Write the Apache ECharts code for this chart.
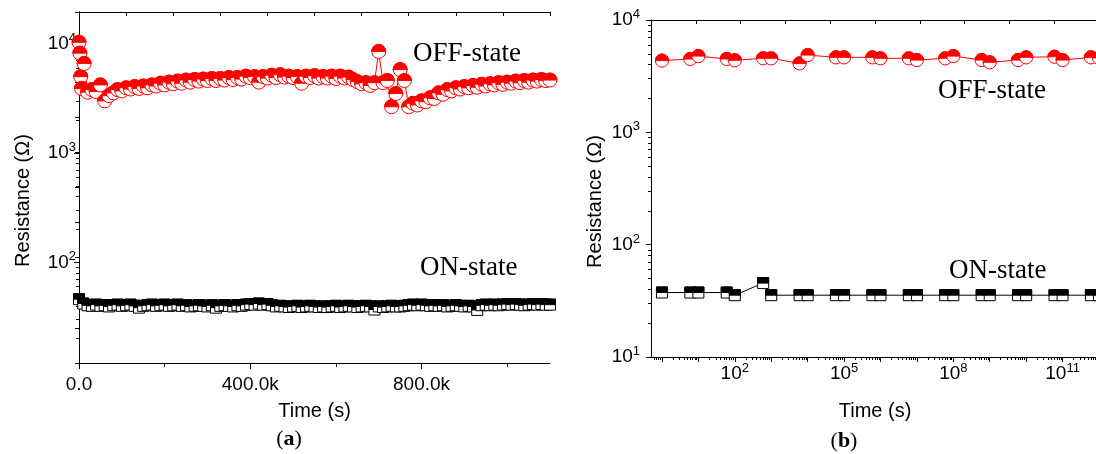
<!DOCTYPE html>
<html><head><meta charset="utf-8">
<script src="https://cdn.jsdelivr.net/npm/echarts@6/dist/echarts.min.js"></script>
<style>html,body{margin:0;padding:0;background:#fff}#c{width:1096px;height:454px}</style>
</head><body><div id="c"></div>
<script>
// ---------- Panel (a): resistance vs time (linear time, kilo-seconds) ----------
const timeOffA_k = [0,2,4,6,12,20,30,40,50,60,70,80,90,100,110,120,130,140,150,160,170,180,190,200,
 210,220,230,240,250,260,270,280,290,300,310,320,330,340,350,360,370,380,390,400,
 410,420,430,440,450,460,470,480,490,500,510,520,530,540,550,560,570,580,590,600,
 610,620,630,640,650,660,670,680,690,700,710,720,730,740,750,760,770,780,790,800,
 810,820,830,840,850,860,870,880,890,900,910,920,930,940,950,960,970,980,990,1000,
 1010,1020,1030,1040,1050,1060,1070,1080,1090,1100];
const offA = [10300,8200,5000,3900,6600,3600,3800,3650,4200,3000,3350,3550,3800,3700,3950,3850,4050,3900,4100,3950,4200,4100,4350,4200,
 4450,4300,4550,4350,4650,4450,4700,4550,4750,4600,4800,4600,4800,4650,4900,4700,4900,4750,5050,4900,
 5000,4450,5000,4850,5150,4900,5200,4950,5050,4900,5000,4350,5050,4900,5100,4850,5000,4850,5050,4800,
 5050,4850,4950,4700,4500,4300,4400,4150,4400,8500,4400,4600,2650,3500,5800,4600,2650,2850,2750,3000,
 2950,3200,3150,3550,3450,3800,3700,3950,3850,4050,3950,4150,4000,4250,4100,4300,4200,4400,4250,4450,
 4350,4550,4400,4600,4450,4650,4550,4700,4600,4650];
const timeOnA_k = [0,10,20,30,40,50,60,70,80,90,100,110,120,130,140,150,160,170,180,190,200,
 210,220,230,240,250,260,270,280,290,300,310,320,330,340,350,360,370,380,390,400,
 410,420,430,440,450,460,470,480,490,500,510,520,530,540,550,560,570,580,590,600,
 610,620,630,640,650,660,670,680,690,700,710,720,730,740,750,760,770,780,790,800,
 810,820,830,840,850,860,870,880,890,900,910,920,930,940,950,960,970,980,990,1000,
 1010,1020,1030,1040,1050,1060,1070,1080,1090,1100];
const onA = [46,42,40.5,40,41,40,40.5,39.5,40.5,41,40,40.5,41,40,38.5,40,40.5,41,40,40.5,41,
 40,40.5,41,40,40.5,39.5,40,40.5,40,39.5,40.5,38.5,40,40.5,40,39.5,40.5,40,41,41.5,
 41,42,41,41.5,40.5,39.5,40,39.5,39,39.5,40,39,39.5,40,39.5,39,39.5,39,39.5,40,
 39,39.5,40,39.5,39,39.5,40,39.5,37,39.5,39,39.5,40,39.5,39.5,40,40.5,41,40.5,41,
 40.5,40,40.5,40,40.5,39.5,40,40.5,40,39.5,40,39.5,36.7,40.5,41,40.5,41,40.5,41,41.5,
 41,41.5,41,40.5,41,41.5,41,41.5,41,41,41];
const xTicksA = [0, 400000, 800000];
const xMinorA = [200000, 600000, 1000000];
const yTicksA = [100, 1000, 10000];

// ---------- Panel (b): resistance vs time (log time, seconds) ----------
const timeB = [1,6,10,60,100,600,1e3,6e3,1e4,6e4,1e5,6e5,1e6,6e6,1e7,6e7,1e8,6e8,1e9,6e9,1e10,6e10,1e11,6e11,1e12];
const offB = [4350,4500,4770,4500,4380,4560,4560,4110,4870,4650,4650,4650,4560,4560,4400,4560,4770,4400,4200,4400,4650,4710,4400,4650,4600];
const onB = [37.5,37.5,37.5,37.5,35.5,45.5,35.5,35.5,35.5,35.5,35.5,35.5,35.5,35.5,35.5,35.5,35.5,35.5,35.5,35.5,35.5,35.5,35.5,35.5,35.5];
const xLabelsB = [100, 1e5, 1e8, 1e11];
const yTicksB = [10, 100, 1000, 10000];

const SANS = 'Liberation Sans, Arial, Helvetica, sans-serif';
const SERIF = 'Liberation Serif, Times New Roman, serif';
const RED = '#ff0000';

function minorLog(lo, hi) {
  const out = [];
  for (let e = -1; e <= 13; e++) for (let k = 2; k <= 9; k++) {
    const v = k * Math.pow(10, e);
    if (v > lo && v < hi) out.push(v);
  }
  return out;
}
function majorLog(lo, hi) {
  const out = [];
  for (let e = -1; e <= 13; e++) { const v = Math.pow(10, e); if (v >= lo && v <= hi) out.push(v); }
  return out;
}
const supFmt = v => '{b|10}{s|' + Math.round(Math.log10(v)) + '}';
const supRich = {
  b: { fontSize: 19, fontFamily: SANS, color: '#000', lineHeight: 24 },
  s: { fontSize: 13, fontFamily: SANS, color: '#000', verticalAlign: 'top', lineHeight: 14 }
};
const line = { lineStyle: { color: '#000', width: 1 } };
const tickStyle = { color: '#000', width: 1 };

function pairs(xs, ys, scale) { return xs.map((x, i) => [x * scale, ys[i]]); }

const dataOffA = pairs(timeOffA_k, offA, 1000);
const dataOnA = pairs(timeOnA_k, onA, 1000);
const dataOffB = pairs(timeB, offB, 1);
const dataOnB = pairs(timeB, onB, 1);

function circleSeries(data, xi, yi, r) {
  return {
    type: 'custom', xAxisIndex: xi, yAxisIndex: yi, data, z: 5,
    encode: { x: 0, y: 1 },
    renderItem(params, api) {
      const p = api.coord([api.value(0), api.value(1)]);
      return { type: 'group', children: [
        { type: 'circle', shape: { cx: p[0], cy: p[1], r }, style: { fill: '#fff', stroke: RED, lineWidth: 1 } },
        { type: 'sector', shape: { cx: p[0], cy: p[1], r0: 0, r: r, startAngle: Math.PI, endAngle: 2 * Math.PI, clockwise: true }, style: { fill: RED, stroke: RED, lineWidth: 1 } }
      ]};
    }
  };
}
function squareSeries(data, xi, yi, s) {
  return {
    type: 'custom', xAxisIndex: xi, yAxisIndex: yi, data, z: 5,
    encode: { x: 0, y: 1 },
    renderItem(params, api) {
      const p = api.coord([api.value(0), api.value(1)]);
      const h = s / 2;
      return { type: 'group', children: [
        { type: 'rect', shape: { x: p[0] - h, y: p[1] - h, width: s, height: s }, style: { fill: '#fff', stroke: '#000', lineWidth: 1 } },
        { type: 'rect', shape: { x: p[0] - h, y: p[1] - h, width: s, height: h }, style: { fill: '#000', stroke: '#000', lineWidth: 1 } }
      ]};
    }
  };
}
function lineSeries(data, xi, yi, color) {
  return { type: 'line', xAxisIndex: xi, yAxisIndex: yi, data, symbol: 'none', z: 2,
    lineStyle: { color, width: 1 }, silent: true };
}

const option = {
  animation: false,
  backgroundColor: '#fff',
  grid: [
    { left: 79, top: 12, width: 471, height: 351, outerBoundsMode: 'none', containLabel: false },
    { left: 651, top: 20, width: 448, height: 337, outerBoundsMode: 'none', containLabel: false }
  ],
  xAxis: [
    { gridIndex: 0, type: 'value', position: 'bottom', min: 0, max: 1100000,
      axisLine: line, splitLine: { show: false },
      axisTick: { customValues: xTicksA, length: 6, lineStyle: tickStyle },
      axisLabel: { customValues: xTicksA, margin: 12, fontSize: 19, fontFamily: SANS, color: '#000',
        formatter: v => v === 0 ? '0.0' : (v / 1000).toFixed(1) + 'k' },
      name: 'Time (s)', nameLocation: 'middle', nameGap: 38,
      nameTextStyle: { fontSize: 20, fontFamily: SANS, color: '#000' } },
    { gridIndex: 0, type: 'value', position: 'bottom', min: 0, max: 1100000,
      axisLine: { show: false }, splitLine: { show: false }, axisLabel: { show: false },
      axisTick: { customValues: xMinorA, length: 4, lineStyle: tickStyle } },
    { gridIndex: 0, type: 'value', position: 'top', min: 0, max: 10, interval: 1,
      axisLine: line, splitLine: { show: false }, axisLabel: { show: false },
      axisTick: { inside: true, length: 4, lineStyle: tickStyle } },
    { gridIndex: 1, type: 'log', position: 'bottom', min: 0.5, max: 1e12,
      axisLine: line, splitLine: { show: false },
      axisTick: { customValues: majorLog(0.5, 1e12), length: 5, lineStyle: tickStyle },
      axisLabel: { customValues: xLabelsB, margin: 5, formatter: supFmt, rich: supRich },
      name: 'Time (s)', nameLocation: 'middle', nameGap: 44,
      nameTextStyle: { fontSize: 20, fontFamily: SANS, color: '#000' } },
    { gridIndex: 1, type: 'log', position: 'bottom', min: 0.5, max: 1e12,
      axisLine: { show: false }, splitLine: { show: false }, axisLabel: { show: false },
      axisTick: { customValues: minorLog(0.5, 1e12), length: 3, lineStyle: tickStyle } },
    { gridIndex: 1, type: 'value', position: 'top', min: 0, max: 10, interval: 1,
      axisLine: line, splitLine: { show: false }, axisLabel: { show: false },
      axisTick: { inside: true, length: 4, lineStyle: tickStyle } }
  ],
  yAxis: [
    { gridIndex: 0, type: 'log', position: 'left', min: 12, max: 19500,
      axisLine: line, splitLine: { show: false },
      axisTick: { customValues: yTicksA, length: 5, lineStyle: tickStyle },
      axisLabel: { customValues: yTicksA, margin: 3, formatter: supFmt, rich: supRich },
      name: 'Resistance (Ω)', nameLocation: 'middle', nameGap: 46, nameRotate: 90,
      nameTextStyle: { fontSize: 20, fontFamily: SANS, color: '#000', padding: [0, 26, 0, 0] } },
    { gridIndex: 0, type: 'log', position: 'left', min: 12, max: 19500,
      axisLine: { show: false }, splitLine: { show: false }, axisLabel: { show: false },
      axisTick: { customValues: minorLog(12, 19500), length: 3, lineStyle: tickStyle } },
    { gridIndex: 0, type: 'value', position: 'right', min: 0, max: 10, interval: 1,
      axisLine: line, splitLine: { show: false }, axisLabel: { show: false },
      axisTick: { inside: true, length: 4, lineStyle: tickStyle } },
    { gridIndex: 1, type: 'log', position: 'left', min: 10, max: 10000,
      axisLine: line, splitLine: { show: false },
      axisTick: { customValues: yTicksB, length: 5, lineStyle: tickStyle },
      axisLabel: { customValues: yTicksB, margin: 11, formatter: supFmt, rich: supRich },
      name: 'Resistance (Ω)', nameLocation: 'middle', nameGap: 46, nameRotate: 90,
      nameTextStyle: { fontSize: 20, fontFamily: SANS, color: '#000', padding: [0, 26, 0, 0] } },
    { gridIndex: 1, type: 'log', position: 'left', min: 10, max: 10000,
      axisLine: { show: false }, splitLine: { show: false }, axisLabel: { show: false },
      axisTick: { customValues: minorLog(10, 10000), length: 3, lineStyle: tickStyle } },
    { gridIndex: 1, type: 'value', position: 'right', min: 0, max: 10, interval: 1,
      axisLine: line, splitLine: { show: false }, axisLabel: { show: false },
      axisTick: { show: false } }
  ],
  series: [
    lineSeries(dataOffA, 0, 0, RED),
    circleSeries(dataOffA, 0, 0, 7),
    lineSeries(dataOnA, 0, 0, '#000'),
    squareSeries(dataOnA, 0, 0, 11),
    lineSeries(dataOffB, 3, 3, RED),
    circleSeries(dataOffB, 3, 3, 6.6),
    lineSeries(dataOnB, 3, 3, '#000'),
    squareSeries(dataOnB, 3, 3, 11)
  ],
  graphic: [
    { type: 'text', style: { x: 413, y: 54, text: 'OFF-state', font: '27px ' + SERIF, fill: '#000', align: 'left', verticalAlign: 'middle' } },
    { type: 'text', style: { x: 420, y: 268, text: 'ON-state', font: '27px ' + SERIF, fill: '#000', align: 'left', verticalAlign: 'middle' } },
    { type: 'text', style: { x: 938, y: 91, text: 'OFF-state', font: '27px ' + SERIF, fill: '#000', align: 'left', verticalAlign: 'middle' } },
    { type: 'text', style: { x: 949, y: 271, text: 'ON-state', font: '27px ' + SERIF, fill: '#000', align: 'left', verticalAlign: 'middle' } },
    { type: 'text', style: { x: 289, y: 439, text: '({b|a})', font: '22px ' + SERIF, fill: '#000', align: 'center', verticalAlign: 'middle',
        rich: { b: { font: 'bold 22px ' + SERIF, fill: '#000' } } } },
    { type: 'text', style: { x: 844, y: 441, text: '({b|b})', font: '22px ' + SERIF, fill: '#000', align: 'center', verticalAlign: 'middle',
        rich: { b: { font: 'bold 22px ' + SERIF, fill: '#000' } } } }
  ]
};
const chart = echarts.init(document.getElementById('c'), null, { renderer: 'canvas' });
chart.setOption(option);
</script></body></html>
